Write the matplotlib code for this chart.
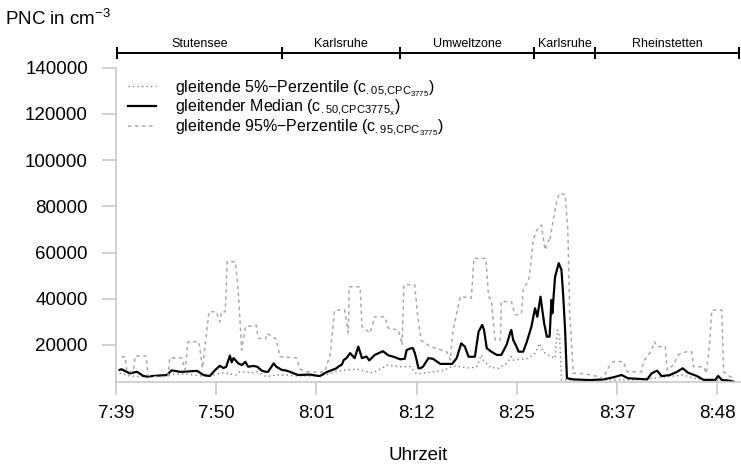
import matplotlib
matplotlib.use("Agg")
import matplotlib.pyplot as plt
from matplotlib.transforms import blended_transform_factory

plt.rcParams['font.family'] = ['Liberation Sans', 'DejaVu Sans']
plt.rcParams['mathtext.fontset'] = 'custom'
plt.rcParams['mathtext.rm'] = 'Liberation Sans'
plt.rcParams['mathtext.it'] = 'Liberation Sans:italic'
plt.rcParams['mathtext.bf'] = 'Liberation Sans:bold'
plt.rcParams['lines.scale_dashes'] = False

# ---- data (minutes since 7:39, particle number concentration in cm^-3) ----
q95_t = [0.6, 1.0, 1.2, 1.9, 2.1, 3.3, 3.5, 4.1, 5.7, 5.9, 7.2, 7.6, 7.9, 9.1, 9.5,
         10.2, 11.0, 11.4, 11.6, 12.0, 12.2, 13.1, 13.4, 13.8, 14.2, 15.4, 15.6, 16.4,
         16.6, 17.6, 18.0, 19.8, 20.2, 20.9, 22.9, 23.5, 24.0, 25.1, 25.5, 25.6, 26.8,
         27.0, 27.9, 28.4, 29.5, 29.9, 31.0, 31.4, 31.6, 32.8, 33.1, 33.5, 34.5, 36.3,
         36.7, 37.0, 37.8, 39.0, 39.3, 40.6, 40.9, 41.2, 41.6, 42.2, 42.3, 43.4, 43.8,
         44.5, 44.7, 45.3, 45.5, 45.8, 46.2, 46.7, 47.1, 47.5, 47.6, 48.0, 48.4, 48.7,
         49.3, 49.6, 49.8, 50.2, 50.9, 52.2, 53.5, 54.0, 54.6, 55.7, 56.1, 57.7, 57.9,
         58.8, 59.1, 59.4, 60.3, 60.5, 61.2, 61.7, 62.6, 63.2, 63.4, 64.5, 64.8, 65.2,
         65.4, 66.5, 66.7, 67.4, 67.8]
q95_v = [14900, 14900, 8400, 8400, 15200, 15200, 7000, 6300, 6300, 14400, 14400, 9200,
         21400, 21400, 10000, 34400, 34400, 30000, 34400, 34400, 56000, 56000, 44700,
         17800, 27900, 28500, 23000, 22500, 25000, 22500, 14900, 14400, 9600, 8400, 8200,
         15700, 35100, 35100, 25200, 45200, 45200, 27900, 25200, 32200, 32200, 27200,
         26500, 20000, 46000, 46000, 33000, 22000, 19300, 17100, 13500, 26500, 40900,
         40300, 57500, 57500, 40900, 39500, 22200, 22200, 38800, 38800, 33000, 33700,
         43800, 48100, 53900, 65500, 69800, 71900, 61100, 65500, 64700, 74100, 82800,
         85700, 85000, 69800, 33700, 7700, 7700, 7000, 5600, 9900, 12800, 12800, 8400,
         8400, 12800, 17800, 21400, 19300, 19300, 9200, 11300, 15700, 17100, 17100,
         10600, 10600, 7700, 22200, 35100, 35100, 8400, 6300, 5600]

med_t = [0.4, 0.6, 1.5, 2.3, 3.0, 3.4, 4.1, 5.6, 6.1, 7.0, 7.4, 8.9, 9.6, 10.0, 10.3,
         10.9, 11.4, 11.8, 12.1, 12.5, 12.7, 12.9, 13.1, 13.4, 13.8, 14.2, 14.5, 15.1,
         15.5, 16.0, 16.4, 16.7, 17.3, 17.6, 18.2, 18.6, 19.1, 19.5, 20.0, 21.3, 22.2,
         22.4, 23.1, 24.2, 24.4, 24.8, 25.0, 25.3, 25.7, 26.2, 26.6, 27.0, 27.5, 27.8,
         28.4, 29.3, 29.9, 30.4, 31.2, 31.7, 31.9, 32.4, 32.6, 32.8, 33.0, 33.2, 33.4,
         33.7, 34.3, 34.8, 35.6, 36.9, 37.4, 37.9, 38.3, 38.7, 39.4, 39.8, 40.2, 40.4,
         40.7, 41.2, 41.8, 42.3, 42.9, 43.3, 43.4, 43.6, 44.0, 44.2, 44.7, 45.1, 45.6,
         46.0, 46.25, 46.6, 47.0, 47.3, 47.6, 47.8, 47.9, 48.2, 48.6, 48.9, 49.1, 49.3,
         49.5, 50.2, 52.0, 53.5, 54.6, 55.5, 56.2, 58.3, 58.8, 59.4, 59.9, 60.8, 61.6,
         62.2, 62.8, 63.8, 64.5, 65.8, 66.1, 66.5, 67.4, 67.8]
med_v = [9200, 9500, 7700, 8400, 6600, 6300, 6600, 7000, 9000, 8400, 8400, 8800, 7000,
         6700, 6600, 9200, 11000, 10000, 10600, 15400, 12500, 14300, 13500, 12100, 11300,
         12700, 10600, 10900, 10600, 8900, 8400, 8400, 12000, 10600, 9200, 9000, 8400,
         7700, 7000, 7200, 6600, 6600, 8200, 9900, 10600, 11500, 13500, 14300, 16500,
         14300, 19300, 14300, 15000, 13300, 15700, 17300, 15500, 15000, 13800, 14000,
         17800, 18600, 18600, 16500, 13500, 9900, 9900, 10600, 14300, 14000, 11800, 11800,
         14300, 20700, 19300, 14900, 14900, 25700, 28700, 26500, 18600, 17100, 15700,
         15700, 20300, 25700, 26500, 22200, 19000, 17100, 17100, 21400, 27900, 35900,
         32200, 40900, 29400, 23600, 23600, 39500, 33700, 49600, 55400, 52500, 40900,
         26500, 5600, 5100, 4800, 5100, 6000, 7000, 5600, 5100, 7700, 8900, 6500, 7000,
         8400, 9900, 8000, 6500, 4900, 4900, 6600, 4900, 4500, 4100]

q05_t = [0.4, 0.6, 1.5, 3.0, 3.7, 5.9, 6.3, 7.8, 9.2, 10.3, 11.4, 11.8, 13.2, 13.6,
         15.1, 15.5, 16.5, 17.6, 18.7, 19.5, 20.9, 22.2, 23.5, 23.9, 25.3, 26.4, 26.8,
         27.9, 28.4, 29.5, 29.7, 31.2, 32.3, 33.0, 33.4, 35.9, 37.0, 38.9, 39.6, 40.1,
         40.3, 41.1, 42.0, 42.9, 43.4, 43.6, 45.1, 46.0, 46.5, 46.9, 47.6, 48.2, 48.45,
         48.7, 48.9, 50.0, 53.5, 55.5, 57.0, 59.0, 62.3, 63.5, 65.0, 67.8]
q05_v = [7700, 7700, 6600, 6300, 6300, 7000, 7400, 7400, 6600, 6600, 7700, 8000, 7000,
         8400, 8000, 8400, 6300, 7000, 7000, 6600, 6600, 6600, 7400, 8400, 9200, 9500,
         9200, 8000, 8400, 10600, 11300, 10600, 10600, 7500, 7700, 8900, 10900, 10000,
         10600, 15700, 13500, 10300, 9900, 12100, 15000, 13500, 14000, 16400, 20700,
         17100, 15200, 14300, 26500, 23600, 4800, 4800, 4800, 5000, 4800, 5600, 7000,
         5500, 4800, 4500]

tick_pos = [0, 11, 22, 33, 44, 55, 66]
tick_labels = ['7:39', '7:50', '8:01', '8:12', '8:25', '8:37', '8:48']
y_ticks = [20000, 40000, 60000, 80000, 100000, 120000, 140000]

seg_bounds = [0.1, 18.2, 31.2, 45.9, 52.6, 68.4]
seg_labels = ['Stutensee', 'Karlsruhe', 'Umweltzone', 'Karlsruhe', 'Rheinstetten']

series_labels = [
    r'gleitende 5%−Perzentile ($\mathrm{c}_{\mathrm{.05{,}CPC}_{3775}}$)',
    r'gleitender Median ($\mathrm{c}_{\mathrm{.50{,}CPC3775}_{\mathrm{x}}}$)',
    r'gleitende 95%−Perzentile ($\mathrm{c}_{\mathrm{.95{,}CPC}_{3775}}$)',
]

# ---- figure ----
W, H = 741, 471
fig = plt.figure(figsize=(W / 100, H / 100), dpi=100)
ax = fig.add_axes([116 / W, (H - 381.7) / H, (740 - 116) / W, (381.7 - 53) / H])

px = 100 / 72.0  # pixels per point
ax.plot(q05_t, q05_v, color='#7a7a7a', lw=1.4 / px, linestyle=(0, (1.3 / px, 3.2 / px)),
        label=series_labels[0])
ax.plot(med_t, med_v, color='black', lw=2.2 / px, solid_joinstyle='round',
        label=series_labels[1])
ax.plot(q95_t, q95_v, color='#a8a8a8', lw=1.5 / px, linestyle=(0, (3.5 / px, 3.5 / px)),
        label=series_labels[2])

ax.set_xlim(0, 68.5)
ax.set_ylim(4100, 146400)

for s in ['top', 'right']:
    ax.spines[s].set_visible(False)
grey = '#c8c8c8'
ax.spines['left'].set_color(grey)
ax.spines['bottom'].set_color(grey)
ax.spines['left'].set_linewidth(1.6 / px)
ax.spines['bottom'].set_linewidth(1.6 / px)
ax.spines['left'].set_bounds(4100, 140000)

ax.set_xticks(tick_pos)
ax.set_xticklabels(tick_labels)
ax.set_yticks(y_ticks)
ax.set_yticklabels([str(v) for v in y_ticks])
ax.tick_params(axis='y', length=14 / px, width=1.6 / px, color=grey, pad=14 / px, labelsize=13.5)
ax.tick_params(axis='x', length=13 / px, width=1.6 / px, color=grey, pad=10 / px, labelsize=13.5)

# top route bar
tr = blended_transform_factory(ax.transData, ax.transAxes)
ax.plot([seg_bounds[0], seg_bounds[-1]], [1, 1], color='black', lw=2 / px,
        transform=tr, clip_on=False, solid_capstyle='butt')
for b in seg_bounds:
    ax.plot([b, b], [1 - 6 / 328.7, 1 + 6 / 328.7], color='black', lw=2 / px,
            transform=tr, clip_on=False, solid_capstyle='butt')
for i, lab in enumerate(seg_labels):
    xc = 0.5 * (seg_bounds[i] + seg_bounds[i + 1])
    ax.text(xc, 1 + 9 / 328.7, lab, transform=tr, ha='center', va='center', fontsize=9)

# axis labels
fig.text(5 / W, 1 - 19 / H, r'PNC in cm$^{-3}$', fontsize=13.5, ha='left', va='center')
fig.text(418 / W, 1 - 455 / H, 'Uhrzeit', fontsize=13.5, ha='center', va='center')

leg = ax.legend(loc='upper left', bbox_to_anchor=(128 / W, 1 - 78 / H),
                bbox_transform=fig.transFigure, frameon=False, fontsize=11.5,
                handlelength=1.75, handletextpad=1.2, labelspacing=-0.05,
                borderpad=0, borderaxespad=0)

fig.savefig('out.png', dpi=100)
